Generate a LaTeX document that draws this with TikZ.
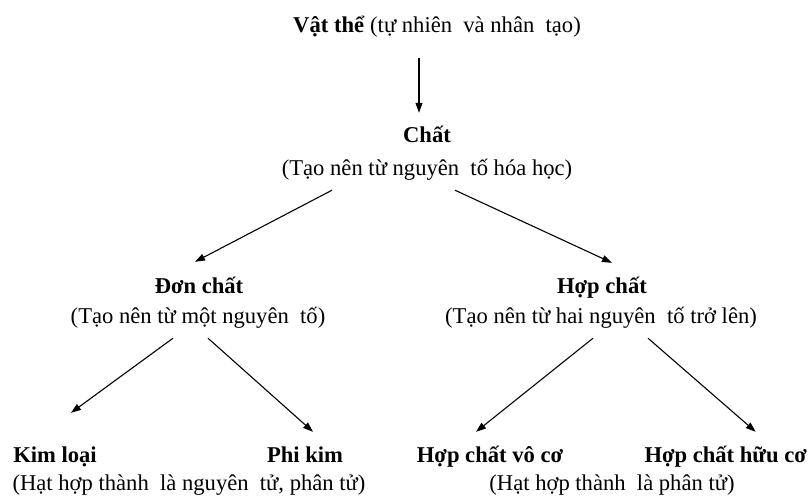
\documentclass[tikz,border=0pt]{standalone}
\usepackage{fontspec}
\setmainfont{Liberation Serif}
\usetikzlibrary{arrows.meta}
\begin{document}
\begin{tikzpicture}[x=1pt,y=-1pt,
  lbl/.style={inner sep=0pt,text height=15pt,text depth=5pt,font=\fontsize{22.6}{27}\selectfont},
  ttl/.style={lbl,font=\fontsize{22.6}{27}\selectfont\bfseries},
  arr/.style={line width=1.1pt,-{Triangle[length=10pt,width=7pt]}}]
\useasboundingbox (0,0) rectangle (809,499);
\node[lbl] (vat) at (437,27) {\textbf{Vật thể} (tự nhiên\ \ và nhân\ \ tạo)};
\node[ttl] (chat) at (427,137) {Chất};
\node[lbl] (chatsub) at (427,170) {(Tạo nên từ nguyên\ \ tố hóa học)};
\node[ttl] (don) at (199,288) {Đơn chất};
\node[lbl] (donsub) at (198,318) {(Tạo nên từ một nguyên\ \ tố)};
\node[ttl] (hop) at (602,288) {Hợp chất};
\node[lbl] (hopsub) at (601,318) {(Tạo nên từ hai nguyên\ \ tố trở lên)};
\node[ttl] (kim) at (55,457) {Kim loại};
\node[ttl] (phi) at (305,457) {Phi kim};
\node[lbl] (kimsub) at (189,485) {(Hạt hợp thành\ \ là nguyên\ \ tử, phân tử)};
\node[ttl] (vo) at (490,457) {Hợp chất vô cơ};
\node[ttl,anchor=east] (huu) at (807,457) {Hợp chất hữu cơ};
\node[lbl] (hopsub2) at (612,485) {(Hạt hợp thành\ \ là phân tử)};
\draw[arr] ([shift={(-18,21)}]vat.south) -- ([shift={(-8,-14)}]chat.north);
\draw[arr] ([shift={(-95,10)}]chatsub.south) -- ([shift={(-4,-16)}]don.north);
\draw[arr] ([shift={(28,10)}]chatsub.south) -- ([shift={(10,-15)}]hop.north);
\draw[arr] ([shift={(-25,10)}]donsub.south) -- ([shift={(16,-34)}]kim.north);
\draw[arr] ([shift={(10,10)}]donsub.south) -- ([shift={(8,-15)}]phi.north);
\draw[arr] ([shift={(-8,10)}]hopsub.south) -- ([shift={(-14,-15)}]vo.north);
\draw[arr] ([shift={(47,10)}]hopsub.south) -- ([shift={(753-723,-15)}]huu.north);
\end{tikzpicture}
\end{document}
